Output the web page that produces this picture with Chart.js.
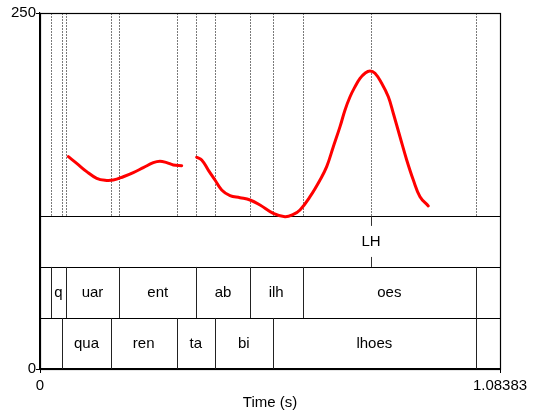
<!DOCTYPE html>
<html><head><meta charset="utf-8">
<script src="https://cdn.jsdelivr.net/npm/chart.js@4.4.1/dist/chart.umd.min.js"></script>
<style>html,body{margin:0;padding:0;background:#fff}#wrap{width:534px;height:417px}</style>
</head><body><div id="wrap"><canvas id="c" width="534" height="417"></canvas></div>
<script>
// ---- data ----
const timeRange = [0, 1.08383];
const pitchRange = [0, 250];
const xTickLabels = ["0", "1.08383"];
const yTickLabels = ["0", "250"];
const axisTitle = "Time (s)";

// pitch contour (two voiced stretches)
const pitchTime1 = [0.0667, 0.0865, 0.1100, 0.1336, 0.1532, 0.1727, 0.1963, 0.2198, 0.2434, 0.2670, 0.2827, 0.2985, 0.3141, 0.3339];
const pitchHz1   = [149.1, 144.4, 138.6, 133.9, 132.5, 132.7, 135.0, 137.9, 141.4, 144.9, 145.9, 144.9, 143.3, 142.8];
const pitchTime2 = [0.3692, 0.3810, 0.3965, 0.4123, 0.4281, 0.4477, 0.4713, 0.4949, 0.5184, 0.5497, 0.5773, 0.5968, 0.6126, 0.6362, 0.6597, 0.6755, 0.6911, 0.7069, 0.7187, 0.7305, 0.7422, 0.7540, 0.7658, 0.7775, 0.7893, 0.8051, 0.8207, 0.8324, 0.8482, 0.8640, 0.8796, 0.8953, 0.9149];
const pitchHz2   = [148.7, 146.8, 139.7, 132.7, 125.7, 121.7, 120.3, 118.7, 115.2, 109.3, 107.0, 108.6, 111.7, 121.0, 132.7, 142.1, 156.1, 170.2, 181.9, 191.2, 198.2, 204.1, 207.7, 209.3, 207.7, 200.6, 191.2, 179.6, 163.1, 146.8, 132.7, 121.0, 114.5];

// tier 1: point tier
const toneTimes  = [0.7799];
const toneLabels = ["LH"];
// tier 2: interval tier
const tierABounds = [0.0259, 0.0606, 0.1868, 0.3683, 0.4941, 0.6190, 1.0273];
const tierALabels = ["", "q", "uar", "ent", "ab", "ilh", "oes", ""];
// tier 3: interval tier
const tierBBounds = [0.0525, 0.1666, 0.3221, 0.4123, 0.5483, 1.0273];
const tierBLabels = ["", "qua", "ren", "ta", "bi", "lhoes", ""];

// ---- drawing ----
const FAMILY = '"Liberation Sans", Arial, sans-serif';
const FONT = '15px ' + FAMILY;
const TIER_FRACTION = 0.43; // share of plot height used by the three tiers

const tierPlugin = {
  id: 'tiers',
  beforeDatasetsDraw(chart) {
    const {ctx, chartArea: a, scales: {x}} = chart;
    const tierH = a.height * TIER_FRACTION / 3;
    const tTop = a.bottom - 3 * tierH;
    const px = v => Math.round(x.getPixelForValue(v)) + 0.5;
    ctx.save();
    // dotted lines through the pitch area
    const all = [...tierABounds, ...tierBBounds, ...toneTimes];
    ctx.strokeStyle = '#7a7a7a';
    ctx.lineWidth = 1;
    ctx.setLineDash([2, 1]);
    all.forEach(t => {
      ctx.beginPath(); ctx.moveTo(px(t), a.top); ctx.lineTo(px(t), tTop); ctx.stroke();
    });
    ctx.setLineDash([]);
    // tier horizontal borders
    ctx.strokeStyle = '#000';
    ctx.lineWidth = 1.2;
    for (let i = 0; i < 3; i++) {
      const yy = Math.round(tTop + i * tierH) + 0.5;
      ctx.beginPath(); ctx.moveTo(a.left, yy); ctx.lineTo(a.right, yy); ctx.stroke();
    }
    ctx.font = FONT;
    ctx.fillStyle = '#000';
    ctx.textAlign = 'center';
    ctx.textBaseline = 'middle';
    // point tier
    ctx.lineWidth = 1;
    ctx.strokeStyle = '#333';
    toneTimes.forEach((t, i) => {
      const xx = px(t);
      const y0 = tTop, y1 = tTop + tierH;
      ctx.beginPath(); ctx.moveTo(xx, y0); ctx.lineTo(xx, y0 + 10); ctx.stroke();
      ctx.beginPath(); ctx.moveTo(xx, y1 - 10); ctx.lineTo(xx, y1); ctx.stroke();
      ctx.fillText(toneLabels[i], x.getPixelForValue(t), (y0 + y1) / 2);
    });
    // interval tiers
    const drawInterval = (bounds, labels, row) => {
      const y0 = tTop + row * tierH, y1 = y0 + tierH;
      ctx.strokeStyle = '#222';
      bounds.forEach(t => {
        ctx.beginPath(); ctx.moveTo(px(t), y0); ctx.lineTo(px(t), y1); ctx.stroke();
      });
      const edges = [timeRange[0], ...bounds, timeRange[1]];
      labels.forEach((lab, i) => {
        if (!lab) return;
        const cx = (x.getPixelForValue(edges[i]) + x.getPixelForValue(edges[i + 1])) / 2;
        ctx.fillText(lab, cx, (y0 + y1) / 2);
      });
    };
    drawInterval(tierABounds, tierALabels, 1);
    drawInterval(tierBBounds, tierBLabels, 2);
    ctx.restore();
  },
  afterDraw(chart) {
    const {ctx, chartArea: a} = chart;
    ctx.save();
    ctx.strokeStyle = '#000';
    ctx.lineWidth = 1.2;
    ctx.strokeRect(Math.round(a.left) + 0.5, Math.round(a.top) + 0.5, Math.round(a.width), Math.round(a.height));
    ctx.restore();
  }
};

const mk = (ts, hs) => ts.map((t, i) => ({x: t, y: hs[i]}));
const lineStyle = {
  showLine: true, borderColor: '#ff0000', backgroundColor: '#ff0000', borderWidth: 3,
  pointRadius: 0, tension: 0.4, fill: false, borderCapStyle: 'round', borderJoinStyle: 'round'
};

new Chart(document.getElementById('c'), {
  type: 'scatter',
  data: {
    datasets: [
      Object.assign({data: mk(pitchTime1, pitchHz1)}, lineStyle),
      Object.assign({data: mk(pitchTime2, pitchHz2)}, lineStyle)
    ]
  },
  options: {
    responsive: false,
    animation: false,
    devicePixelRatio: 1,
    layout: {padding: {left: 0, right: 34, top: 13, bottom: 0}},
    plugins: {legend: {display: false}, tooltip: {enabled: false}},
    scales: {
      x: {
        type: 'linear', min: timeRange[0], max: timeRange[1],
        afterBuildTicks: s => { s.ticks = timeRange.map(v => ({value: v})); },
        afterFit: s => { s.height = 48; },
        ticks: {
          autoSkip: false, maxRotation: 0, padding: 4, color: '#000',
          font: {family: FAMILY, size: 15},
          callback: (v, i) => xTickLabels[i]
        },
        grid: {drawOnChartArea: false, drawTicks: true, tickLength: 4, color: '#000'},
        border: {display: true, color: '#000', width: 1.2},
        title: {display: true, text: axisTitle, color: '#000', padding: {top: 0, bottom: 5},
          font: {family: FAMILY, size: 15}}
      },
      y: {
        type: 'linear', min: pitchRange[0], max: pitchRange[1],
        afterBuildTicks: s => { s.ticks = pitchRange.map(v => ({value: v})); },
        afterFit: s => { s.width = 40; },
        ticks: {
          autoSkip: false, padding: 0, color: '#000',
          font: {family: FAMILY, size: 15},
          callback: (v, i) => yTickLabels[i]
        },
        grid: {drawOnChartArea: false, drawTicks: true, tickLength: 4, color: '#000'},
        border: {display: true, color: '#000', width: 1.2}
      }
    }
  },
  plugins: [tierPlugin]
});
</script>
</body></html>
